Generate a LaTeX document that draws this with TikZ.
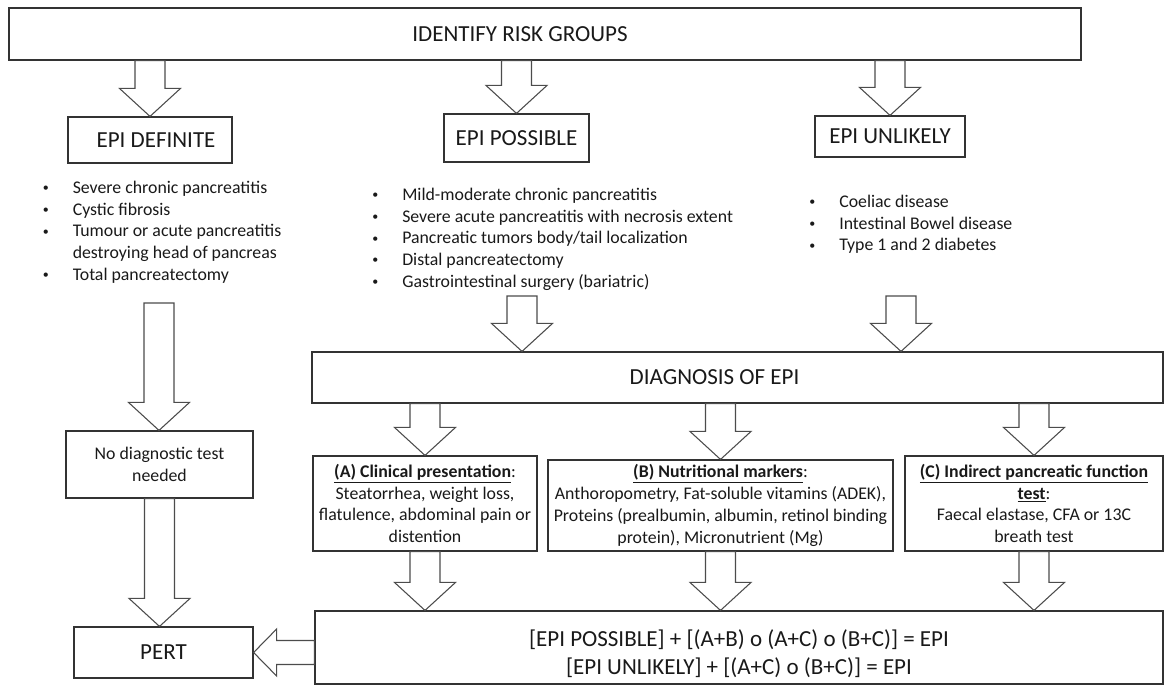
\documentclass[tikz,border=0pt]{standalone}
\usepackage{fontspec}
\setmainfont{Carlito}
\usepackage{tikz}
\usetikzlibrary{shapes,calc}

\newcommand{\smallfont}{\fontsize{13.35}{16.3}\selectfont}
\newcommand{\bigfont}{\fontsize{17.25}{20.7}\selectfont}
\newcommand{\hd}[1]{\underline{\textbf{#1}}}
\newcommand{\bul}{\raisebox{1.3pt}{\fontsize{9}{9}\selectfont\textbullet}}
\newcommand{\fatdown}[2]{%
  \path [fat] let \p1=(#1), \p2=(#2) in
    (\x1-11.25pt,\y1) -- (\x1-11.25pt,\y2+21pt) -- (\x1-22.9pt,\y2+21pt) -- (\x1,\y2)
    -- (\x1+22.9pt,\y2+21pt) -- (\x1+11.25pt,\y2+21pt) -- (\x1+11.25pt,\y1) -- cycle;}
\newcommand{\fatleft}[2]{%
  \path [fat] let \p1=(#1), \p2=(#2) in
    (\x1,\y1+9pt) -- (\x2+17.25pt,\y1+9pt) -- (\x2+17.25pt,\y1+17.6pt) -- (\x2,\y1)
    -- (\x2+17.25pt,\y1-17.6pt) -- (\x2+17.25pt,\y1-9pt) -- (\x1,\y1-9pt) -- cycle;}

\tikzstyle{block} = [rectangle, draw=black!80, line width=0.9pt, text centered, inner sep=0pt, text=black!90, font=\bigfont]
\tikzstyle{tbox} = [block, font=\smallfont, align=center]
\tikzstyle{list} = [anchor=north west, inner sep=0pt, text=black!90, font=\smallfont]
\tikzstyle{fat} = [draw=black!70, line width=0.8pt, fill=white]

\begin{document}
\begin{tikzpicture}[x=0.75pt, y=-0.75pt]
\useasboundingbox (0,0) rectangle (1167,686);
\node [block, minimum width=804pt, minimum height=39pt] (top) at (545,34) {IDENTIFY RISK GROUPS\hspace*{37.5pt}};
\node [block, minimum width=123pt, minimum height=34.5pt] (defn) at (150,140) {\hspace*{9pt}EPI DEFINITE};
\node [block, minimum width=108.75pt, minimum height=36pt] (poss) at (516.5,138) {EPI POSSIBLE};
\node [block, minimum width=112.5pt, minimum height=30.75pt] (unl) at (890,136.5) {EPI UNLIKELY};
\node [list] (defnlist) at (42.5,178) {\begin{tabular}{@{}p{22.5pt}@{}l@{}}
\bul & Severe chronic pancreatitis\\
\bul & Cystic fibrosis\\
\bul & Tumour or acute pancreatitis\\
 & destroying head of pancreas\\
\bul & Total pancreatectomy
\end{tabular}};
\node [list] (posslist) at (372,185) {\begin{tabular}{@{}p{22.5pt}@{}l@{}}
\bul & Mild-moderate chronic pancreatitis\\
\bul & Severe acute pancreatitis with necrosis extent\\
\bul & Pancreatic tumors body/tail localization\\
\bul & Distal pancreatectomy\\
\bul & Gastrointestinal surgery (bariatric)
\end{tabular}};
\node [list] (unllist) at (809,192) {\begin{tabular}{@{}p{22.5pt}@{}l@{}}
\bul & Coeliac disease\\
\bul & Intestinal Bowel disease\\
\bul & Type 1 and 2 diabetes
\end{tabular}};
\coordinate (defnout) at (159,303);
\coordinate (possout) at (522,296);
\coordinate (unlout) at (901,296);
\node [tbox, minimum width=140.25pt, minimum height=50.25pt] (nodiag) at (159.5,464.5) {No diagnostic test\\needed};
\node [block, minimum width=134.25pt, minimum height=38.25pt] (pert) at (163.5,652.5) {PERT};
\node [block, minimum width=638.25pt, minimum height=38.25pt] (diag) at (737.5,377.5) {DIAGNOSIS OF EPI\hspace*{34.5pt}};
\node [tbox, minimum width=168pt, minimum height=71.25pt] (clin) at (425,503.5) {\hd{(A) Clinical presentation}:\\Steatorrhea, weight loss,\\flatulence, abdominal pain or\\distention};
\node [tbox, minimum width=258.75pt, minimum height=68.25pt] (nutr) at (720.5,505.5) {\hd{(B) Nutritional markers}:\\Anthoropometry, Fat-soluble vitamins (ADEK),\\Proteins (prealbumin, albumin, retinol binding\\protein), Micronutrient (Mg)};
\node [tbox, minimum width=193.5pt, minimum height=71.25pt] (func) at (1034,503.5) {\hd{(C) Indirect pancreatic function}\\\hd{test}:\\Faecal elastase, CFA or 13C\\breath test};
\node [block, align=center, minimum width=636pt, minimum height=54.75pt] (rule) at (739,647.5) {\rule{0pt}{22pt}[EPI POSSIBLE] + [(A+B) o (A+C) o (B+C)] = EPI\\{}[EPI UNLIKELY] + [(A+C) o (B+C)] = EPI};
\fatdown{top.south -| defn.north}{defn.north}
\fatdown{top.south -| poss.north}{poss.north}
\fatdown{top.south -| unl.north}{unl.north}
\fatdown{defnout}{nodiag.north}
\fatdown{nodiag.south}{pert.north}
\fatdown{possout}{diag.north}
\fatdown{unlout}{diag.north}
\fatdown{diag.south -| clin.north}{clin.north}
\fatdown{diag.south -| nutr.north}{nutr.north}
\fatdown{diag.south -| func.north}{func.north}
\fatdown{clin.south}{rule.north}
\fatdown{nutr.south}{rule.north}
\fatdown{func.south}{rule.north}
\fatleft{rule.west |- pert.east}{pert.east}
\end{tikzpicture}
\end{document}
